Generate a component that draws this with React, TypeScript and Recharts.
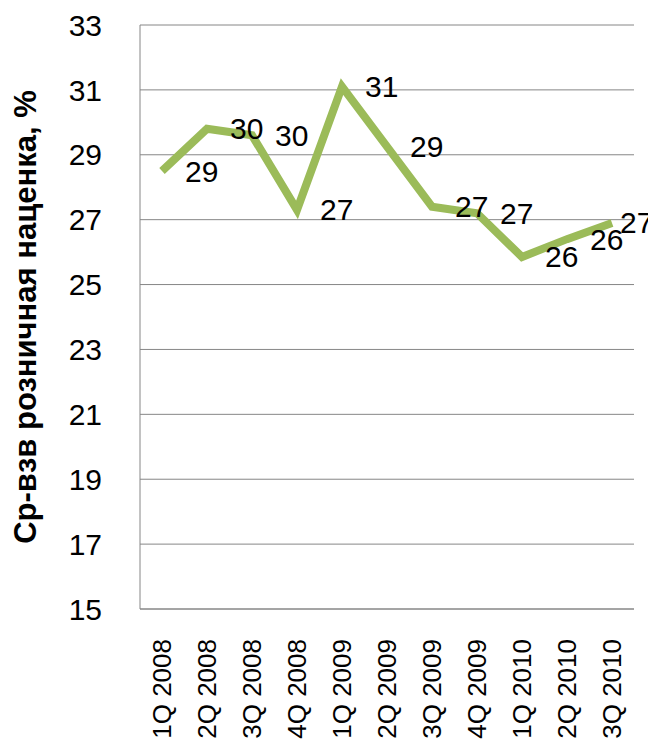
import { LineChart, Line, XAxis, YAxis, CartesianGrid, LabelList } from 'recharts'

const quarters = [
    '1Q 2008', '2Q 2008', '3Q 2008', '4Q 2008',
    '1Q 2009', '2Q 2009', '3Q 2009', '4Q 2009',
    '1Q 2010', '2Q 2010', '3Q 2010',
]
const markup = [28.5, 29.8, 29.6, 27.3, 31.1, 29.25, 27.4, 27.2, 25.85, 26.4, 26.9]
const yTicks = [15, 17, 19, 21, 23, 25, 27, 29, 31, 33]

const data = quarters.map((q, i) => ({ q, value: markup[i] }))

const FONT = '"Liberation Sans", Arial, sans-serif'

function QuarterTick({ x, y, payload }: any) {
    return (
        <text
            x={x}
            y={y}
            transform={`rotate(-90 ${x} ${y})`}
            textAnchor="end"
            dominantBaseline="central"
            fontSize={26}
            fontFamily={FONT}
            fill="#000"
        >
            {payload.value}
        </text>
    )
}

function ValueLabel({ x, y, value }: any) {
    // подписи справа от точки, как в Excel
    const lx = Math.min(x + 23, 620)
    return (
        <text
            x={lx}
            y={y}
            dominantBaseline="central"
            fontSize={30}
            fontFamily={FONT}
            fill="#000"
        >
            {Math.round(value)}
        </text>
    )
}

export default function App() {
    return (
        <div style={{ width: 656, height: 748, margin: -8, background: '#fff' }}>
            <LineChart
                width={656}
                height={748}
                data={data}
                margin={{ top: 25, right: 22, left: 0, bottom: 0 }}
            >
                <CartesianGrid vertical={false} stroke="#868686" />
                <XAxis
                    dataKey="q"
                    height={139}
                    stroke="#868686"
                    tickLine={false}
                    tickSize={0}
                    tickMargin={30}
                    tick={<QuarterTick />}
                    interval={0}
                    padding={{ left: 22, right: 22 }}
                />
                <YAxis
                    domain={[15, 33]}
                    ticks={yTicks}
                    width={140}
                    stroke="#868686"
                    tickLine={false}
                    tickSize={0}
                    tickMargin={38}
                    tick={{ fill: '#000', fontSize: 30, fontFamily: FONT }}
                    label={{
                        value: 'Ср-взв розничная наценка, %',
                        angle: -90,
                        position: 'insideLeft',
                        dx: 20,
                        style: { textAnchor: 'middle', fontSize: 31, fontWeight: 'bold', fontFamily: FONT, fill: '#000' },
                    }}
                />
                <Line
                    type="linear"
                    dataKey="value"
                    stroke="#9bbb59"
                    strokeWidth={8}
                    dot={false}
                    isAnimationActive={false}
                >
                    <LabelList dataKey="value" content={<ValueLabel />} />
                </Line>
            </LineChart>
        </div>
    )
}
